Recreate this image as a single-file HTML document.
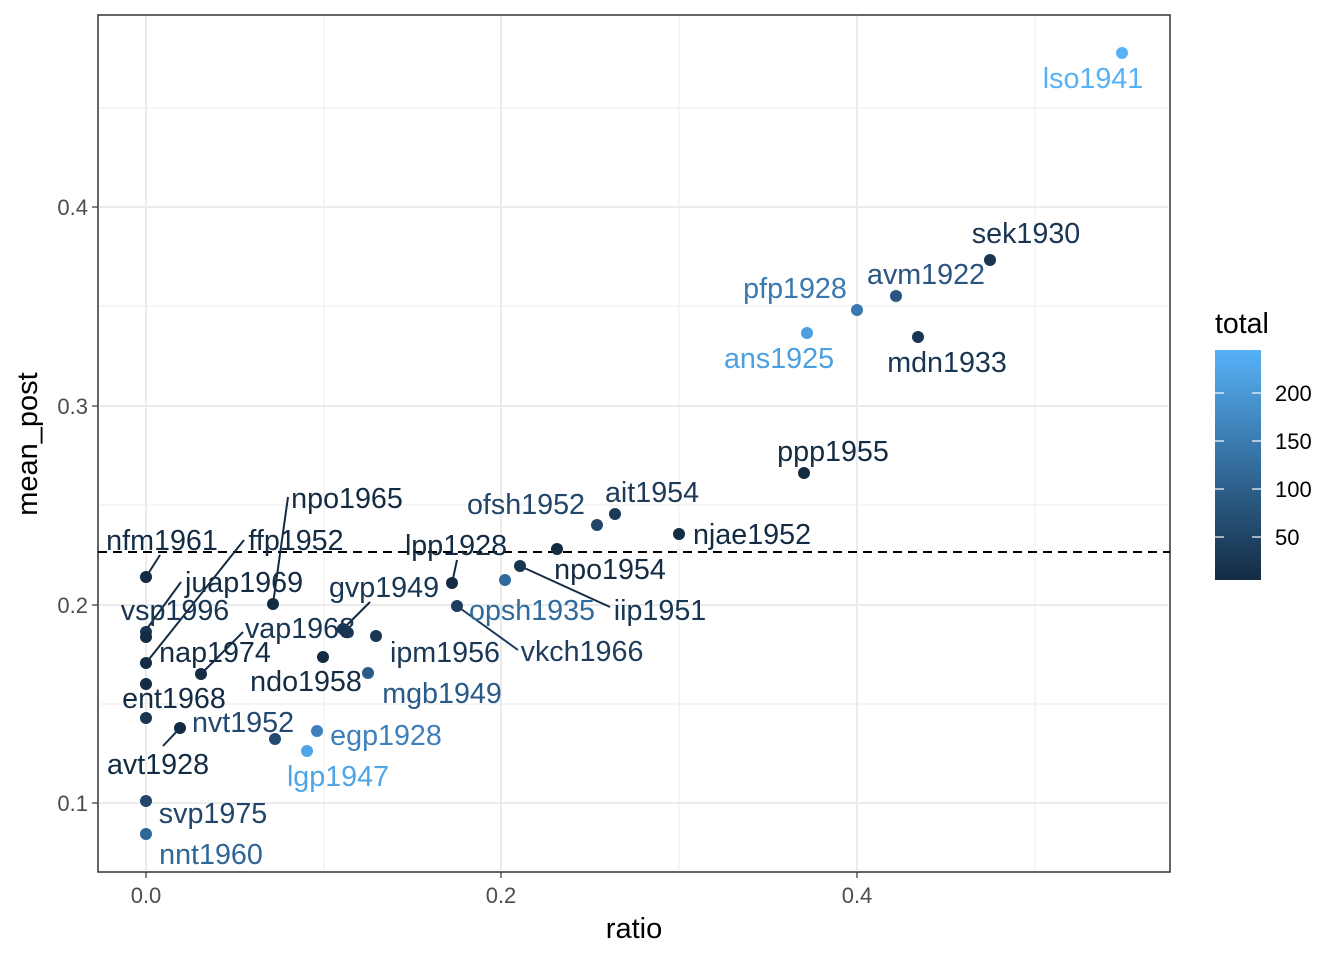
<!DOCTYPE html>
<html><head><meta charset="utf-8"><style>body{margin:0;background:#fff}</style></head><body>
<svg width="1344" height="960" xmlns="http://www.w3.org/2000/svg" font-family="Liberation Sans, sans-serif">
<rect x="98" y="15" width="1072" height="857" fill="#fff" stroke="#333" stroke-width="1.3"/>
<g stroke="#ebebeb" stroke-width="1">
<line x1="98" x2="1170" y1="108" y2="108"/><line x1="98" x2="1170" y1="306" y2="306"/><line x1="98" x2="1170" y1="505" y2="505"/><line x1="98" x2="1170" y1="704" y2="704"/>
<line y1="15" y2="872" x1="324" x2="324"/><line y1="15" y2="872" x1="679" x2="679"/><line y1="15" y2="872" x1="1035" x2="1035"/>
</g>
<g stroke="#ebebeb" stroke-width="2">
<line x1="98" x2="1170" y1="207" y2="207"/><line x1="98" x2="1170" y1="406" y2="406"/><line x1="98" x2="1170" y1="605" y2="605"/><line x1="98" x2="1170" y1="803" y2="803"/>
<line y1="15" y2="872" x1="146" x2="146"/><line y1="15" y2="872" x1="501" x2="501"/><line y1="15" y2="872" x1="857" x2="857"/>
</g>
<rect x="98" y="15" width="1072" height="857" fill="none" stroke="#333" stroke-width="1.3"/>
<line x1="98" x2="1170" y1="552" y2="552" stroke="#000" stroke-width="2" stroke-dasharray="9,6"/>
<g stroke="#333" stroke-width="1.2">
<line x1="92" x2="98" y1="207" y2="207"/><line x1="92" x2="98" y1="406" y2="406"/><line x1="92" x2="98" y1="605" y2="605"/><line x1="92" x2="98" y1="803" y2="803"/>
<line y1="872" y2="878" x1="146" x2="146"/><line y1="872" y2="878" x1="501" x2="501"/><line y1="872" y2="878" x1="857" x2="857"/>
</g>
<g font-size="22" fill="#4d4d4d" text-anchor="end">
<text x="88" y="215">0.4</text><text x="88" y="414">0.3</text><text x="88" y="613">0.2</text><text x="88" y="811">0.1</text>
</g>
<g font-size="22" fill="#4d4d4d" text-anchor="middle">
<text x="146" y="903">0.0</text><text x="501" y="903">0.2</text><text x="857" y="903">0.4</text>
</g>
<text x="634" y="938" font-size="29" text-anchor="middle">ratio</text>
<text transform="translate(37,444) rotate(-90)" font-size="29" text-anchor="middle">mean_post</text>
<g stroke-width="2">
<line x1="520" y1="566" x2="610" y2="607" stroke="#132B43"/>
<line x1="457" y1="606" x2="518" y2="650" stroke="#1e3d5c"/>
<line x1="452" y1="583" x2="457" y2="560" stroke="#132B43"/>
<line x1="343" y1="629" x2="370" y2="602" stroke="#132B43"/>
<line x1="273" y1="604" x2="288" y2="497" stroke="#132B43"/>
<line x1="146" y1="663" x2="244" y2="540" stroke="#132B43"/>
<line x1="146" y1="630" x2="181" y2="582" stroke="#132B43"/>
<line x1="146" y1="577" x2="160" y2="555" stroke="#132B43"/>
<line x1="201" y1="674" x2="243" y2="632" stroke="#132B43"/>
<line x1="163" y1="746" x2="180" y2="728" stroke="#132B43"/>
</g>
<g>
<circle cx="1122" cy="53" r="6" fill="#56B1F7"/>
<circle cx="990" cy="260" r="6" fill="#183552"/>
<circle cx="896" cy="296" r="6" fill="#2a5580"/>
<circle cx="857" cy="310" r="6" fill="#3a78b0"/>
<circle cx="807" cy="333" r="6" fill="#4ca0e0"/>
<circle cx="918" cy="337" r="6" fill="#183552"/>
<circle cx="804" cy="473" r="6" fill="#132B43"/>
<circle cx="679" cy="534" r="6" fill="#132B43"/>
<circle cx="615" cy="514" r="6" fill="#1d3b59"/>
<circle cx="597" cy="525" r="6" fill="#22466a"/>
<circle cx="557" cy="549" r="6" fill="#132B43"/>
<circle cx="520" cy="566" r="6" fill="#183552"/>
<circle cx="505" cy="580" r="6" fill="#2f6a9c"/>
<circle cx="457" cy="606" r="6" fill="#1e3d5c"/>
<circle cx="452" cy="583" r="6" fill="#132B43"/>
<circle cx="343" cy="629" r="6" fill="#183552"/>
<circle cx="346" cy="631" r="6" fill="#183552"/>
<circle cx="376" cy="636" r="6" fill="#1a3856"/>
<circle cx="368" cy="673" r="6" fill="#2a5a88"/>
<circle cx="323" cy="657" r="6" fill="#132B43"/>
<circle cx="273" cy="604" r="6" fill="#132B43"/>
<circle cx="146" cy="577" r="6" fill="#132B43"/>
<circle cx="146" cy="632" r="6" fill="#183552"/>
<circle cx="146" cy="637" r="6" fill="#132B43"/>
<circle cx="146" cy="663" r="6" fill="#132B43"/>
<circle cx="201" cy="674" r="6" fill="#132B43"/>
<circle cx="146" cy="684" r="6" fill="#132B43"/>
<circle cx="146" cy="718" r="6" fill="#183552"/>
<circle cx="180" cy="728" r="6" fill="#132B43"/>
<circle cx="275" cy="739" r="6" fill="#24496e"/>
<circle cx="317" cy="731" r="6" fill="#3d80bb"/>
<circle cx="307" cy="751" r="6" fill="#4ea6e8"/>
<circle cx="146" cy="801" r="6" fill="#22466a"/>
<circle cx="146" cy="834" r="6" fill="#2e6797"/>
</g>
<g font-size="28.7" text-anchor="middle">
<text x="1093" y="88" fill="#56B1F7">lso1941</text>
<text x="1026" y="243" fill="#183552">sek1930</text>
<text x="926" y="284" fill="#2a5580">avm1922</text>
<text x="795" y="298" fill="#3a78b0">pfp1928</text>
<text x="779" y="368" fill="#4ca0e0">ans1925</text>
<text x="947" y="372" fill="#183552">mdn1933</text>
<text x="833" y="461" fill="#132B43">ppp1955</text>
<text x="752" y="544" fill="#132B43">njae1952</text>
<text x="652" y="502" fill="#1d3b59">ait1954</text>
<text x="526" y="514" fill="#22466a">ofsh1952</text>
<text x="610" y="579" fill="#132B43">npo1954</text>
<text x="660" y="620" fill="#183552">iip1951</text>
<text x="532" y="620" fill="#2f6a9c">opsh1935</text>
<text x="582" y="661" fill="#1e3d5c">vkch1966</text>
<text x="456" y="555" fill="#132B43">lpp1928</text>
<text x="384" y="597" fill="#183552">gvp1949</text>
<text x="300" y="638" fill="#183552">vap1968</text>
<text x="445" y="662" fill="#1a3856">ipm1956</text>
<text x="442" y="703" fill="#2a5a88">mgb1949</text>
<text x="306" y="691" fill="#132B43">ndo1958</text>
<text x="347" y="508" fill="#132B43">npo1965</text>
<text x="296" y="550" fill="#132B43">ffp1952</text>
<text x="244" y="592" fill="#132B43">juap1969</text>
<text x="175" y="620" fill="#183552">vsp1996</text>
<text x="162" y="550" fill="#132B43">nfm1961</text>
<text x="215" y="662" fill="#132B43">nap1974</text>
<text x="174" y="708" fill="#132B43">ent1968</text>
<text x="243" y="732" fill="#24496e">nvt1952</text>
<text x="158" y="774" fill="#132B43">avt1928</text>
<text x="213" y="823" fill="#22466a">svp1975</text>
<text x="211" y="864" fill="#2e6797">nnt1960</text>
<text x="386" y="745" fill="#3d80bb">egp1928</text>
<text x="338" y="786" fill="#4ea6e8">lgp1947</text>
</g>
<text x="1215" y="333" font-size="28.5">total</text>
<defs><linearGradient id="g" x1="0" y1="1" x2="0" y2="0"><stop offset="0" stop-color="#132B43"/><stop offset="1" stop-color="#56B1F7"/></linearGradient></defs>
<rect x="1215" y="350" width="46" height="230" fill="url(#g)"/>
<g stroke="#fff" stroke-width="1.2">
<line x1="1215" x2="1224" y1="393" y2="393"/><line x1="1252" x2="1261" y1="393" y2="393"/>
<line x1="1215" x2="1224" y1="441" y2="441"/><line x1="1252" x2="1261" y1="441" y2="441"/>
<line x1="1215" x2="1224" y1="489" y2="489"/><line x1="1252" x2="1261" y1="489" y2="489"/>
<line x1="1215" x2="1224" y1="537" y2="537"/><line x1="1252" x2="1261" y1="537" y2="537"/>
</g>
<g font-size="22" fill="#000">
<text x="1275" y="401">200</text><text x="1275" y="449">150</text><text x="1275" y="497">100</text><text x="1275" y="545">50</text>
</g>
</svg>
</body></html>
